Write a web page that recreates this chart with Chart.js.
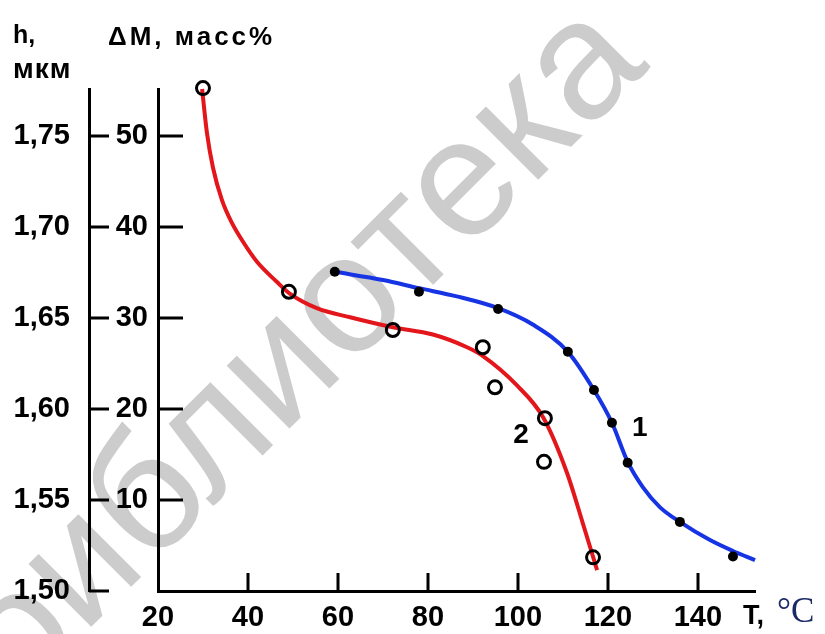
<!DOCTYPE html>
<html>
<head>
<meta charset="utf-8">
<script src="https://cdn.jsdelivr.net/npm/chart.js@4/dist/chart.umd.min.js"></script>
<style>
  body { margin: 0; background: #fff; }
  #wrap { width: 825px; height: 634px; }
</style>
</head>
<body>
<div id="wrap"><canvas id="myChart" width="825" height="634"></canvas></div>
<script>
'use strict';

//data
let tempCurve1 = [59.3, 70, 78, 86.4, 95.6, 103.3, 111.1, 116.9, 120.9, 124.4, 127.8, 131.6, 136, 142.7, 147.8, 152.7];
let massCurve1 = [35.1, 34.2, 33.3, 32.4, 31.1, 29.3, 26.3, 22.1, 18.5, 14.2, 11.4, 9.2, 7.6, 5.6, 4.4, 3.4];
let tempPoints1 = [59.3, 78, 95.6, 111.1, 116.9, 120.9, 124.4, 136, 147.8];
let massPoints1 = [35.1, 32.9, 31.0, 26.3, 22.1, 18.5, 14.1, 7.6, 3.8];

let tempCurve2 = [29.8, 30.9, 32.2, 34.2, 36.4, 38.9, 42.0, 46.4, 49.3, 55.3, 62.7, 72.2, 81.1, 88.7, 92.0, 99.8, 105.6, 110.9, 114.4, 117.6];
let massCurve2 = [55.2, 50.3, 46.6, 43.0, 40.5, 38.4, 36.2, 34.0, 32.7, 31.1, 30.1, 29.0, 28.2, 26.8, 25.9, 22.6, 19.1, 13.0, 7.5, 2.3];
let tempPoints2 = [30, 49.1, 72.2, 92.2, 94.9, 106, 105.8, 116.7];
let massPoints2 = [55.3, 32.9, 28.7, 26.8, 22.4, 19.0, 14.2, 3.7];

//tick labels
let tempTicks = [20, 40, 60, 80, 100, 120, 140];
let massTicks = [10, 20, 30, 40, 50];
let heightTicks = [1.50, 1.55, 1.60, 1.65, 1.70, 1.75];
let curveNames = ['1', '2'];

let massMax = 55.2;
let tempMax = 152.7;

function toXY(xs, ys) {
  let out = [];
  for (let i = 0; i < xs.length; i++) {
    out.push({ x: xs[i], y: ys[i] });
  }
  return out;
}

function setTicks(values) {
  return function(scale) {
    scale.ticks = values.map(v => ({ value: v }));
  };
}

const boldFont = '"Liberation Sans", Arial, sans-serif';

//watermark, ticks drawn inward and the loose texts
const decorPlugin = {
  id: 'decor',
  beforeDraw(chart) {
    let ctx = chart.ctx;
    ctx.save();
    ctx.translate(441, 277);
    ctx.rotate(-Math.PI / 4);
    ctx.font = '168px "Liberation Sans", Arial, sans-serif';
    ctx.fillStyle = '#cccccc';
    ctx.textBaseline = 'alphabetic';
    let shift = ctx.measureText('библио').width + ctx.measureText('т').width / 2;
    ctx.fillText('библиотека\u2002БНТУ', -shift, 0);
    ctx.restore();
  },
  afterDraw(chart) {
    let ctx = chart.ctx;
    let xs = chart.scales.x;
    let ym = chart.scales.yMass;
    let yh = chart.scales.yHeight;

    ctx.save();
    ctx.strokeStyle = '#000';
    ctx.lineWidth = 3;
    ctx.beginPath();
    massTicks.forEach(v => {
      let y = Math.round(ym.getPixelForValue(v));
      ctx.moveTo(ym.right, y);
      ctx.lineTo(ym.right + 25, y);
    });
    heightTicks.forEach(v => {
      let y = Math.round(yh.getPixelForValue(v));
      ctx.moveTo(yh.right, y);
      ctx.lineTo(yh.right + 20, y);
    });
    tempTicks.forEach(v => {
      if (v === xs.min) return;
      let x = Math.round(xs.getPixelForValue(v));
      ctx.moveTo(x, xs.top);
      ctx.lineTo(x, xs.top - 18);
    });
    ctx.stroke();

    ctx.fillStyle = '#000';
    ctx.textBaseline = 'alphabetic';
    ctx.textAlign = 'left';
    ctx.font = 'bold 25px ' + boldFont;
    ctx.fillText('h,', 13, 43);
    ctx.font = 'bold 28px ' + boldFont;
    ctx.letterSpacing = '1px';
    ctx.fillText('мкм', 13, 78);
    ctx.font = 'bold 26px ' + boldFont;
    ctx.letterSpacing = '3px';
    ctx.fillText('ΔM, масс%', 108, 45);
    ctx.letterSpacing = '0px';

    ctx.font = 'bold 27px ' + boldFont;
    ctx.fillText('T,', 743, 624);
    ctx.fillStyle = '#1c2a66';
    ctx.font = '35px "Liberation Serif", "Times New Roman", serif';
    ctx.fillText('°C', 777, 622);

    //curve numbers
    ctx.fillStyle = '#000';
    ctx.font = 'bold 28px ' + boldFont;
    ctx.textAlign = 'center';
    ctx.textBaseline = 'middle';
    let numPos = [[127.1, 17.9], [100.7, 17.1]];
    curveNames.forEach((name, i) => {
      ctx.fillText(name, xs.getPixelForValue(numPos[i][0]), ym.getPixelForValue(numPos[i][1]));
    });
    ctx.restore();
  }
};

const ctx = document.getElementById('myChart');
new Chart(ctx, {
  type: 'line',
  data: {
    datasets: [
      {
        data: toXY(tempPoints2, massPoints2),
        showLine: false,
        clip: false,
        pointRadius: 6.5,
        pointBorderWidth: 3,
        pointBorderColor: '#000',
        pointBackgroundColor: 'rgba(0,0,0,0)',
        yAxisID: 'yMass'
      },
      {
        data: toXY(tempPoints1, massPoints1),
        showLine: false,
        clip: false,
        pointRadius: 5,
        pointBorderWidth: 0,
        pointBackgroundColor: '#000',
        yAxisID: 'yMass'
      },
      {
        data: toXY(tempCurve2, massCurve2),
        borderColor: '#e3161b',
        borderWidth: 4,
        pointRadius: 0,
        clip: false,
        cubicInterpolationMode: 'monotone',
        yAxisID: 'yMass'
      },
      {
        data: toXY(tempCurve1, massCurve1),
        borderColor: '#1634e4',
        borderWidth: 4,
        pointRadius: 0,
        clip: false,
        cubicInterpolationMode: 'monotone',
        yAxisID: 'yMass'
      }
    ]
  },
  options: {
    responsive: false,
    animation: false,
    events: [],
    layout: { padding: { top: 89, right: 70, left: 0, bottom: 0 } },
    plugins: {
      legend: { display: false },
      tooltip: { enabled: false }
    },
    scales: {
      x: {
        type: 'linear',
        min: 20,
        max: tempMax,
        afterBuildTicks: setTicks(tempTicks),
        afterFit: function(scale) { scale.height = 43; },
        grid: { display: false, drawTicks: false },
        border: { display: true, color: '#000', width: 3 },
        ticks: {
          color: '#000',
          padding: 10,
          maxRotation: 0,
          font: { family: boldFont, size: 29, weight: 'bold' }
        }
      },
      yMass: {
        type: 'linear',
        position: 'left',
        weight: 0,
        min: 0,
        max: massMax,
        afterBuildTicks: setTicks(massTicks),
        afterFit: function(scale) { scale.width = 69; },
        grid: { display: false, drawTicks: false },
        border: { display: true, color: '#000', width: 3 },
        ticks: {
          color: '#000',
          padding: 10,
          font: { family: boldFont, size: 29, weight: 'bold' }
        }
      },
      yHeight: {
        type: 'linear',
        position: 'left',
        weight: 1,
        min: 1.5,
        max: 1.5 + massMax * 0.005,
        afterBuildTicks: setTicks(heightTicks),
        afterFit: function(scale) { scale.width = 89; },
        grid: { display: false, drawTicks: false },
        border: { display: true, color: '#000', width: 3 },
        ticks: {
          color: '#000',
          padding: 19,
          font: { family: boldFont, size: 29, weight: 'bold' },
          callback: function(value) { return value.toFixed(2).replace('.', ','); }
        }
      }
    }
  },
  plugins: [decorPlugin]
});
</script>
</body>
</html>
